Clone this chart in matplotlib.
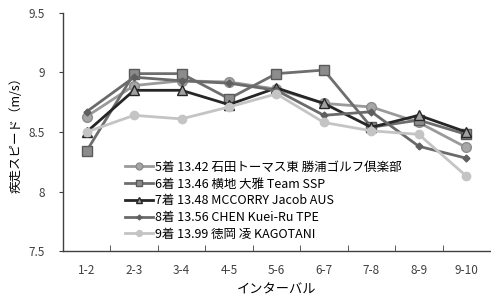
import matplotlib
matplotlib.use("Agg")
import matplotlib.pyplot as plt
import numpy as np

plt.rcParams['font.family'] = ['Noto Sans CJK JP', 'DejaVu Sans']

categories = ["1-2", "2-3", "3-4", "4-5", "5-6", "6-7", "7-8", "8-9", "9-10"]
labels = [
    "5着 13.42 石田トーマス東 勝浦ゴルフ倶楽部",
    "6着 13.46 横地 大雅 Team SSP",
    "7着 13.48 MCCORRY Jacob AUS",
    "8着 13.56 CHEN Kuei-Ru TPE",
    "9着 13.99 徳岡 凌 KAGOTANI",
]
s5 = [8.63, 8.89, 8.93, 8.92, 8.86, 8.74, 8.71, 8.58, 8.37]
s6 = [8.34, 8.99, 8.99, 8.78, 8.99, 9.02, 8.54, 8.60, 8.48]
s7 = [8.50, 8.85, 8.85, 8.73, 8.87, 8.74, 8.54, 8.64, 8.50]
s8 = [8.67, 8.96, 8.93, 8.91, 8.85, 8.64, 8.67, 8.38, 8.28]
s9 = [8.50, 8.64, 8.61, 8.71, 8.82, 8.58, 8.51, 8.48, 8.13]

fig = plt.figure(figsize=(4.91, 3.0), dpi=100)
ax = fig.add_axes([0.128, 0.163, 0.870, 0.794])
x = np.arange(len(categories))

styles = [
    dict(color='#9a9a9a', marker='o', ms=7, mfc='#a6a6a6', mec='#8c8c8c', lw=2.0),
    dict(color='#6e6e6e', marker='s', ms=7, mfc='#8c8c8c', mec='#5a5a5a', lw=2.0),
    dict(color='#262626', marker='^', ms=7, mfc='#a0a0a0', mec='#262626', lw=2.0),
    dict(color='#6a6a6a', marker='D', ms=3.5, mfc='#5f5f5f', mec='#5f5f5f', lw=2.0),
    dict(color='#c4c4c4', marker='o', ms=6, mfc='#c4c4c4', mec='#c4c4c4', lw=2.0),
]
series = [s5, s6, s7, s8, s9]
for s, st, lab in zip(series, styles, labels):
    ax.plot(x, s, label=lab, **st)

ax.set_xlim(-0.5, len(categories) - 0.5)
ax.set_ylim(7.5, 9.5)
ax.set_yticks([7.5, 8, 8.5, 9, 9.5])
ax.set_yticklabels(["7.5", "8", "8.5", "9", "9.5"])
ax.set_xticks(x)
ax.set_xticklabels(categories)
ax.set_xticks(np.arange(0.5, len(categories) - 0.5, 1), minor=True)
ax.tick_params(axis='x', which='major', length=0, pad=9, labelsize=8.5, colors='#404040')
ax.tick_params(axis='x', which='minor', direction='in', length=4, color='#404040')
ax.tick_params(axis='y', direction='out', length=3, labelsize=8.5, colors='#404040', pad=10)
for sp in ['top', 'right']:
    ax.spines[sp].set_visible(False)
for sp in ['left', 'bottom']:
    ax.spines[sp].set_color('#404040')
    ax.spines[sp].set_linewidth(1.0)

ax.set_xlabel("インターバル", fontsize=9.5, labelpad=5)
ax.set_ylabel("疾走スピード（m/s）", fontsize=9, labelpad=4)

leg = ax.legend(loc='upper left', bbox_to_anchor=(0.133, 0.40), frameon=False,
                fontsize=9, handlelength=2.3, handletextpad=0.15,
                labelspacing=0.3, markerscale=0.7, borderaxespad=0)

fig.savefig("out.png", dpi=100)
